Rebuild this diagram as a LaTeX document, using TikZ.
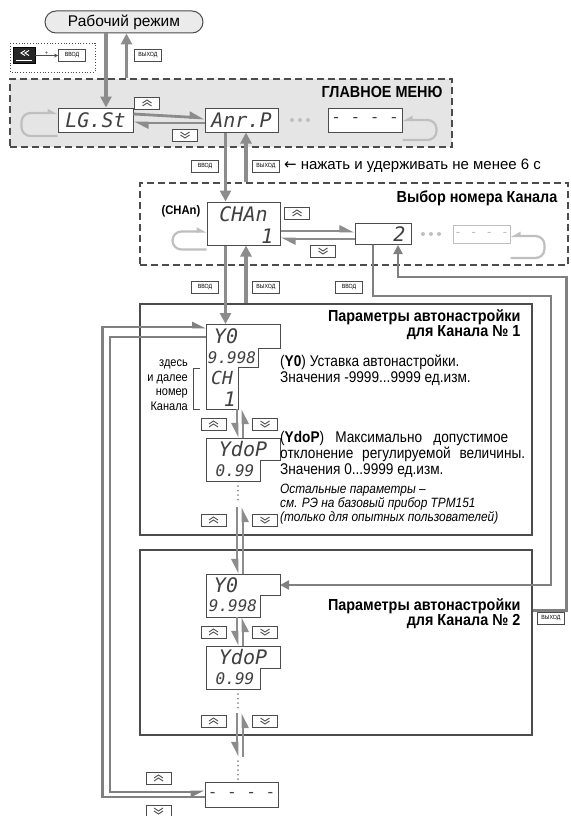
\documentclass[tikz,border=0pt]{standalone}
\usepackage{fontspec}
\setmainfont{Liberation Sans}[FakeStretch=0.88]
\newfontfamily\widefont{Liberation Sans}
\newfontfamily\headfont{Liberation Sans}[FakeStretch=0.9]
\newfontfamily\dispfont{DejaVu Sans Mono}
\newfontfamily\symfont{DejaVu Sans}
\usetikzlibrary{arrows.meta,positioning,calc}
\definecolor{frame}{gray}{0.3}
\definecolor{arrowgray}{gray}{0.55}
\definecolor{loopgray}{gray}{0.75}
\definecolor{menufill}{gray}{0.9}
\definecolor{linkgray}{gray}{0.5}
\begin{document}
\begin{tikzpicture}[x=1pt, y=-1pt,
  work/.style={draw=frame, line width=1pt, fill=black!8, rounded corners=11pt,
               minimum width=158pt, minimum height=22pt, inner sep=0pt,
               font=\widefont\fontsize{15.5}{16}\selectfont},
  menubox/.style={draw=frame, line width=1.2pt, dash pattern=on 7pt off 4pt,
                  fill=menufill, inner sep=0pt},
  chbox/.style={draw=frame, line width=1.2pt, dash pattern=on 7pt off 4pt, inner sep=0pt},
  parbox/.style={draw=frame, line width=1.2pt, inner sep=0pt},
  disp/.style={draw=frame, line width=1pt, fill=white, inner sep=0pt, text=black!75,
               font=\dispfont\itshape\fontsize{20}{20}\selectfont},
  dframe/.style={draw=frame, line width=1pt, fill=white},
  dtext/.style={inner sep=0pt, text=black!75, font=\dispfont\itshape\fontsize{20}{20}\selectfont},
  dsmall/.style={inner sep=0pt, text=black!75, font=\dispfont\itshape\fontsize{16}{16}\selectfont},
  key/.style={draw=frame, line width=0.7pt, fill=white, minimum width=27pt,
              minimum height=12pt, inner sep=0pt, font=\fontsize{6}{6}\selectfont},
  upkey/.style={key, minimum width=25pt, minimum height=12pt, path picture={
      \draw[frame, line width=0.9pt]
        ([shift={(-4.5pt,-3pt)}]path picture bounding box.center) -- ++(4.5pt,3pt) -- ++(4.5pt,-3pt)
        ([shift={(-4.5pt,0pt)}]path picture bounding box.center) -- ++(4.5pt,3pt) -- ++(4.5pt,-3pt);}},
  dnkey/.style={key, minimum width=25pt, minimum height=12pt, path picture={
      \draw[frame, line width=0.9pt]
        ([shift={(-4.5pt,3pt)}]path picture bounding box.center) -- ++(4.5pt,-3pt) -- ++(4.5pt,3pt)
        ([shift={(-4.5pt,0pt)}]path picture bounding box.center) -- ++(4.5pt,-3pt) -- ++(4.5pt,3pt);}},
  progkey/.style={draw=black, fill=black!85, minimum width=22pt, minimum height=16pt, inner sep=0pt,
      path picture={
      \draw[white, line width=1pt]
        ([shift={(1pt,5pt)}]path picture bounding box.center) -- ++(-4pt,-2.5pt) -- ++(4pt,-2.5pt)
        ([shift={(5pt,5pt)}]path picture bounding box.center) -- ++(-4pt,-2.5pt) -- ++(4pt,-2.5pt);
      \draw[white, line width=0.5pt]
        ([shift={(-8pt,-4.5pt)}]path picture bounding box.center) -- ++(16pt,0pt);}},
  flow/.style={draw=arrowgray, line width=3.5pt, -{Triangle[length=11pt,width=11pt]}},
  harpl/.style={draw=arrowgray, line width=2.8pt, -{Stealth[left,inset=0pt,length=12pt,width=11pt]}},
  harpr/.style={draw=arrowgray, line width=2.8pt, -{Stealth[right,inset=0pt,length=12pt,width=11pt]}},
  loopl/.style={draw=loopgray, line width=2.2pt, rounded corners=9pt,
                -{Stealth[left,inset=0pt,length=8pt,width=8pt]}},
  loopr/.style={draw=loopgray, line width=2.2pt, rounded corners=9pt,
                -{Stealth[right,inset=0pt,length=8pt,width=8pt]}},
  link/.style={draw=linkgray, line width=2.6pt},
  dotline/.style={draw=arrowgray, line width=2pt, dash pattern=on 0pt off 4.5pt, line cap=round},
  title/.style={inner sep=0pt, anchor=east, align=right,
                font=\headfont\bfseries\fontsize{16}{15}\selectfont},
  body/.style={inner sep=0pt, anchor=west, align=left, font=\fontsize{15.5}{16}\selectfont},
  note/.style={inner sep=0pt, anchor=west, align=left, font=\itshape\fontsize{13.5}{14}\selectfont}
]
\useasboundingbox (0,0) rectangle (570,816);

% Frames
\node[menubox, minimum width=442pt, minimum height=68pt] (menu) at (231,113) {};
\node[chbox, minimum width=428pt, minimum height=82pt] (chsel) at (354,224) {};
\node[parbox, minimum width=392pt, minimum height=231pt] (par1) at (336,419.5) {};
\node[parbox, minimum width=392pt, minimum height=185pt] (par2) at (336,642.5) {};

% Working mode and key combination
\node[work] (work) at (124,22) {Рабочий режим};
\draw[frame, line width=0.8pt, dotted] (10,43) rectangle (95,72);
\node[progkey] (prog) at (24,55.5) {};
\node[key] (enter0) at (72,55.5) {ВВОД};
\draw[frame, line width=0.6pt, -{Stealth[length=4pt,width=4pt]}] (prog) -- (enter0)
  node[midway, above=-1pt, inner sep=1pt, font=\fontsize{7}{7}\selectfont] (plus) {+};
\node[key] (exit0) at (148,55) {ВЫХОД};

% Main menu
\node[title] (menutitle) at ([shift={(-10pt,-14pt)}]menu.north east) {ГЛАВНОЕ МЕНЮ};
\node[disp, minimum width=75pt, minimum height=24pt] (lgst) at (95.5,120) {LG.St};
\node[disp, minimum width=73pt, minimum height=24pt] (anrp) at (241.5,120) {Anr.P};
\node[disp, minimum width=74pt, minimum height=24pt, font=\dispfont\fontsize{16}{16}\selectfont]
  (menuend) at (365,120) {- - - -};
\node[upkey] (up0) at (147,103) {};
\node[dnkey] (dn0) at (185,135) {};
\foreach \x in {292,300,308} \fill[loopgray] (\x,120) circle (2pt);
\draw[harpl] ([yshift=6pt]lgst.east) -- ([yshift=2pt]anrp.west);
\draw[harpl] ([yshift=-3pt]anrp.west) -- ([yshift=-3pt]lgst.east);
\draw[loopl] ([yshift=-16pt]lgst.west) -- ++(-36,0) -- ++(0,-23) -- ([yshift=7pt]lgst.west);
\draw[loopr] ([yshift=-20pt]menuend.east) -- ++(34,0) -- ++(0,-20) -- (menuend.east);
\draw[flow] ([xshift=10.5pt]lgst.north |- work.south) -- ([xshift=10.5pt]lgst.north);
\draw[flow] ([xshift=31pt]lgst.north |- menu.north) -- ([xshift=31pt]lgst.north |- work.south);

% Entering channel selection
\node[key] (enter1) at (205,166) {ВВОД};
\node[key] (exit1) at (266,166) {ВЫХОД};
\node[anchor=west, inner sep=0pt, font=\widefont\fontsize{15}{15}\selectfont]
  (holdnote) at ([xshift=4pt]exit1.east) {{\symfont ←} нажать и удерживать не менее 6 с};

% Channel selection
\node[title] (chtitle) at ([shift={(-11pt,-16pt)}]chsel.north east) {Выбор номера Канала};
\node[disp, minimum width=73pt, minimum height=43pt] (chan) at (243.5,223.5) {};
\node[dtext] (channame) at ([yshift=9pt]chan.center) {CHAn};
\node[dtext, anchor=south east] (channum) at ([shift={(-7pt,2pt)}]chan.south east) {1};
\node[anchor=east, inner sep=0pt, font=\headfont\bfseries\fontsize{12.5}{12}\selectfont]
  (chanlbl) at ([shift={(-6pt,12pt)}]chan.west) {(CHAn)};
\node[disp, minimum width=56pt, minimum height=21pt] (ch2) at (383,234) {};
\node[dtext, anchor=east] (ch2num) at ([xshift=-6pt]ch2.east) {2};
\node[draw=loopgray, line width=1pt, minimum width=57pt, minimum height=18pt, inner sep=0pt,
      text=loopgray, font=\dispfont\fontsize{13}{13}\selectfont] (chend) at (481.5,234) {- - - -};
\foreach \x in {423,431,439} \fill[loopgray] (\x,234) circle (2pt);
\node[upkey] (up1) at (297,213) {};
\node[dnkey] (dn1) at (323,251) {};
\draw[harpl] ([yshift=-7.5pt]chan.east) -- ([yshift=3pt]ch2.west);
\draw[harpl] ([yshift=-5pt]ch2.west) -- ([yshift=-15.5pt]chan.east);
\draw[loopl] ([yshift=-26pt]chan.west) -- ++(-34,0) -- ++(0,-18) -- ([yshift=-8pt]chan.west);
\draw[loopr] ([yshift=-24pt]chend.east) -- ++(34,0) -- ++(0,-22) -- ([yshift=-2pt]chend.east);
\draw[flow] ([xshift=-16pt]anrp.south) -- ([xshift=-16pt]anrp.south |- chan.north);
\draw[flow] ([xshift=4.5pt]anrp.south |- chsel.north) -- ([xshift=4.5pt]anrp.south);

\node[key] (enter2) at (205,287) {ВВОД};
\node[key] (exit2) at (266,287) {ВЫХОД};
\node[key] (enter3) at (349,287) {ВВОД};

% Parameter displays
\coordinate (y01) at (206,324);   \coordinate (y01bot) at (206,409);
\coordinate (ydop1) at (206,438); \coordinate (ydop1bot) at (206,481);
\coordinate (more1) at (206,507);
\coordinate (y02) at (206,574);   \coordinate (y02bot) at (206,617);
\coordinate (ydop2) at (206,646); \coordinate (ydop2bot) at (206,689);
\coordinate (more2) at (206,713); \coordinate (last2) at (206,757);
\coordinate (y02e) at (280,585);

% Links from channel 2 and back, first/last parameter
\draw[link, -{Triangle[length=9pt,width=9pt]}] ([xshift=-10pt]ch2.south) -- ++(0,51) -- ++(178,0) |- (y02e);
\draw[link, -{Triangle[length=9pt,width=9pt]}] ([yshift=32pt]par2.east) -- ++(34,0) -- ++(0,-333.5)
  -| ([xshift=15pt]ch2.south);
\node[key] (exit3) at (551,618) {ВЫХОД};
\node[disp, minimum width=73pt, minimum height=25pt, font=\dispfont\fontsize{16}{16}\selectfont]
  (parend) at (241.5,794.5) {- - - -};
\draw[link, -{Stealth[left,inset=0pt,length=11pt,width=10pt]}] ([yshift=-2.5pt]parend.west)
  -- ++(-102,0) |- ([yshift=-3pt]y01);
\draw[link, -{Stealth[right,inset=0pt,length=11pt,width=10pt]}] ([yshift=-13pt]y01)
  -- ++(-96,0) |- ([yshift=2.5pt]parend.west);
\node[upkey] (up6) at (158.5,778) {};
\node[dnkey] (dn6) at (158.5,811) {};

% Channel 1
\draw[dframe] (y01) -- ++(74,0) -- ++(0,24) -- ++(-22,0) -- ++(0,19) -- ++(-20,0) -- ++(0,42) -- ++(-32,0) -- cycle;
\node[dtext] (y01name) at ([shift={(20,12)}]y01) {Y0};
\node[dsmall] (y01val) at ([shift={(26,34)}]y01) {9.998};
\node[dtext, font=\dispfont\itshape\fontsize{18}{18}\selectfont] (y01ch) at ([shift={(16,54)}]y01) {CH};
\node[dtext] (y01num) at ([shift={(24,75)}]y01) {1};
\draw[frame, line width=0.8pt] (200,368) -- (193,368) -- (193,409) -- (200,409);
\node[anchor=east, align=right, inner sep=0pt, font=\fontsize{12.5}{14.5}\selectfont]
  (chnote) at (188,385) {здесь\\и далее\\номер\\Канала};
\draw[dframe] (ydop1) -- ++(74,0) -- ++(0,22) -- ++(-20,0) -- ++(0,21) -- ++(-54,0) -- cycle;
\node[dtext] (ydop1name) at ([shift={(37,11)}]ydop1) {YdoP};
\node[dsmall] (ydop1val) at ([shift={(29,33)}]ydop1) {0.99};
\node[upkey] (up2) at (213.5,424) {};
\node[dnkey] (dn2) at (265,424) {};
\node[upkey] (up3) at (213.5,520) {};
\node[dnkey] (dn3) at (265,520) {};
\draw[harpr] ([xshift=31pt]y01bot) -- ([xshift=31pt]ydop1);
\draw[harpr] ([xshift=37pt]ydop1) -- ([xshift=37pt]y01bot);
\draw[dotline] ([shift={(32,5)}]ydop1bot) -- ([shift={(32,-4)}]more1);
\draw[harpr] ([xshift=31pt]more1) -- ([xshift=31pt]y02);
\draw[harpr] ([xshift=37pt]y02) -- ([xshift=37pt]more1);
\node[title] (par1title) at ([shift={(-12pt,-21.5pt)}]par1.north east) {Параметры автонастройки\\для Канала № 1};
\node[body] (y0text) at (280,370) {(\textbf{Y0}) Уставка автонастройки.\\Значения -9999...9999 ед.изм.};
\node[body] (ydoptext) at (280,454)
  {\makebox[228pt][s]{(\textbf{YdoP}) Максимально допустимое}\\
   \makebox[245pt][s]{отклонение регулируемой величины.}\\
   Значения 0...9999 ед.изм.};
\node[note] (resttext) at (280,504) {Остальные параметры –\\см. РЭ на базовый прибор ТРМ151\\(только для опытных пользователей)};

% Channel 2
\draw[dframe] (y02) -- ++(74,0) -- ++(0,21) -- ++(-20,0) -- ++(0,22) -- ++(-54,0) -- cycle;
\node[dtext] (y02name) at ([shift={(20,11)}]y02) {Y0};
\node[dsmall] (y02val) at ([shift={(27,32)}]y02) {9.998};
\draw[dframe] (ydop2) -- ++(74,0) -- ++(0,22) -- ++(-20,0) -- ++(0,21) -- ++(-54,0) -- cycle;
\node[dtext] (ydop2name) at ([shift={(37,11)}]ydop2) {YdoP};
\node[dsmall] (ydop2val) at ([shift={(29,33)}]ydop2) {0.99};
\node[upkey] (up4) at (213.5,632) {};
\node[dnkey] (dn4) at (265,632) {};
\node[upkey] (up5) at (213.5,721) {};
\node[dnkey] (dn5) at (265,721) {};
\draw[harpr] ([xshift=31pt]y02bot) -- ([xshift=31pt]ydop2);
\draw[harpr] ([xshift=37pt]ydop2) -- ([xshift=37pt]y02bot);
\draw[dotline] ([shift={(32,5)}]ydop2bot) -- ([shift={(32,-4)}]more2);
\draw[harpr] ([xshift=31pt]more2) -- ([xshift=31pt]last2);
\draw[harpr] ([xshift=37pt]last2) -- ([xshift=37pt]more2);
\draw[dotline] ([shift={(32,4)}]last2) -- ([xshift=-3.5pt]parend.north);
\node[title] (par2title) at ([shift={(-12pt,-64.5pt)}]par2.north east) {Параметры автонастройки\\для Канала № 2};

% Arrows between channel selection and channel 1
\draw[flow] ([xshift=-18pt]chan.south) -- ([xshift=19.5pt]y01);
\draw[flow] ([xshift=2.5pt]chan.south |- par1.north) -- ([xshift=2.5pt]chan.south);
\end{tikzpicture}
\end{document}
